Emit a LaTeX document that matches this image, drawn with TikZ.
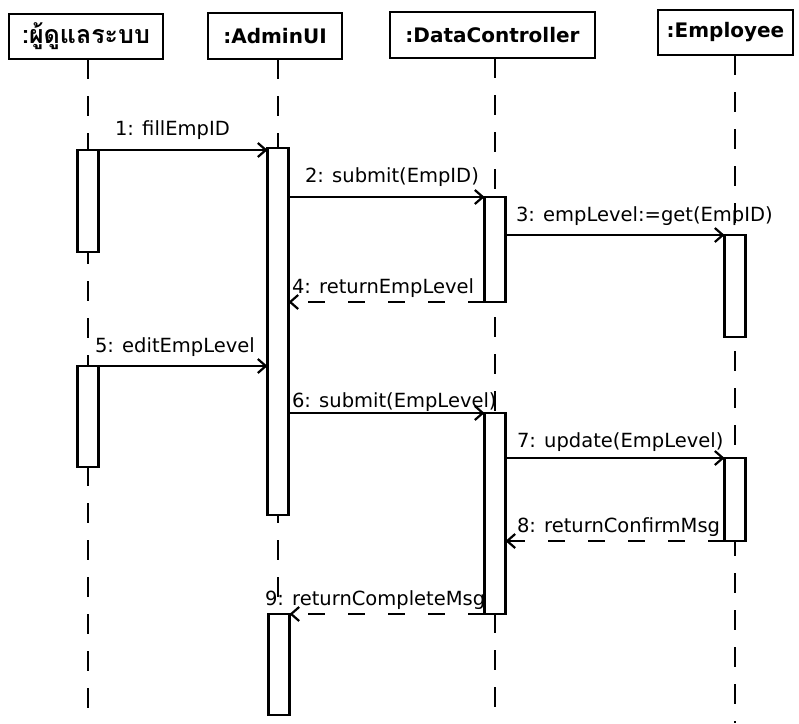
\documentclass[tikz,border=0pt]{standalone}
\usepackage{fontspec}
\setmainfont{DejaVu Sans}
\newfontfamily\thaifont[Script=Thai]{Loma}
\usetikzlibrary{arrows.meta}

\begin{document}
\begin{tikzpicture}[x=1pt,y=-1pt,
  every node/.style={inner sep=0pt,outer sep=0pt},
  head/.style={draw,line width=2.2pt,fill=white,
    font=\fontsize{20}{24}\selectfont\bfseries},
  life/.style={line width=2.2pt,dash pattern=on 20pt off 17pt},
  act/.style={draw,line width=2.2pt,fill=white,minimum width=21pt,anchor=north},
  msg/.style={line width=2.2pt,-{Straight Barb[length=8pt,width=14pt,line width=2.2pt]}},
  ret/.style={msg,dash pattern=on 17pt off 23pt},
  lbl/.style={anchor=base west,font=\fontsize{19.5}{23}\selectfont}]

\useasboundingbox (0,0) rectangle (799,723);
\fill[white] (0,0) rectangle (799,723);
\coordinate (bottom) at (0,723);

% object headers
\node[head,minimum width=154pt,minimum height=45pt] (h1) at (86,36.5)
  {\thaifont\fontsize{25}{28}\selectfont\bfseries :ผู้ดูแลระบบ};
\node[head,minimum width=134pt,minimum height=46pt] (h2) at (275,36) {:AdminUI};
\node[head,minimum width=205pt,minimum height=46pt] (h3) at (492.5,35) {:DataController};
\node[head,minimum width=135pt,minimum height=45pt] (h4) at (725.5,32.5) {:Employee};

% lifeline anchors
\coordinate (l1) at (88,0);
\coordinate (l2) at (278,0);
\coordinate (l3) at (495,0);
\coordinate (l4) at (735,0);

% lifelines
\draw[life] (l1 |- h1.south) -- (l1 |- bottom);
\draw[life] (l2 |- h2.south) -- (l2 |- bottom);
\draw[life] (l3 |- h3.south) -- (l3 |- bottom);
\draw[life] (l4 |- h4.south) -- (l4 |- bottom);

% activation bars
\node[act,minimum height=102pt] (a1) at (88,150) {};
\node[act,minimum height=367pt] (a2) at (278,148) {};
\node[act,minimum height=105pt] (a3) at (495,197) {};
\node[act,minimum height=102pt] (a4) at (735,235) {};
\node[act,minimum height=101pt] (a5) at (88,366) {};
\node[act,minimum height=201pt] (a6) at (495,413) {};
\node[act,minimum height=83pt]  (a7) at (735,458) {};
\node[act,minimum height=101pt] (a8) at (279,614) {};

% messages
\draw[msg] (a1.north) -- (a1.north -| a2.west);
\node[lbl] (m1) at (115,135) {1: fillEmpID};

\draw[msg] (a2.east |- a3.north) -- (a3.north west);
\node[lbl] (m2) at (305,182) {2: submit(EmpID)};

\draw[msg] (a3.east |- a4.north) -- (a4.north west);
\node[lbl] (m3) at (516,221) {3: empLevel:=get(EmpID)};

\draw[ret] (a3.south west) -- (a3.south west -| a2.east);
\node[lbl] (m4) at (292,293) {4: returnEmpLevel};

\draw[msg] (a5.north) -- (a5.north -| a2.west);
\node[lbl] (m5) at (95,352) {5: editEmpLevel};

\draw[msg] (a2.east |- a6.north) -- (a6.north west);
\node[lbl] (m6) at (292,407) {6: submit(EmpLevel)};

\draw[msg] (a6.east |- a7.north) -- (a7.north west);
\node[lbl] (m7) at (517,447) {7: update(EmpLevel)};

\draw[ret] (a7.south west) -- (a7.south west -| a6.east);
\node[lbl] (m8) at (517,532) {8: returnConfirmMsg};

\draw[ret] (a6.south west) -- (a8.north east);
\node[lbl] (m9) at (265,605) {9: returnCompleteMsg};

\end{tikzpicture}
\end{document}
